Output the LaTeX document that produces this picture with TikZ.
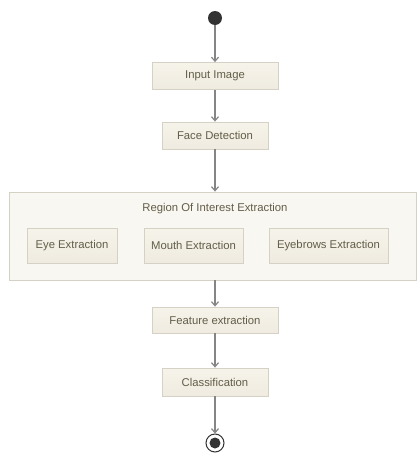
\documentclass[tikz,border=0pt]{standalone}
\usepackage{fontspec}
\setmainfont{Liberation Sans}
\usetikzlibrary{arrows.meta}
\definecolor{boxfill}{HTML}{F6F3EA}
\definecolor{boxfillb}{HTML}{EFEBE0}
\definecolor{boxline}{HTML}{D5D1C5}
\definecolor{regfill}{HTML}{F9F7F1}
\definecolor{txt}{HTML}{625D48}
\definecolor{arr}{HTML}{858585}
\tikzset{
  lbl/.style={font=\fontsize{11.3}{13}\selectfont, text=txt},
  stepbox/.style={draw=boxline, line width=0.8pt, top color=boxfill, bottom color=boxfillb,
    minimum height=27pt, inner sep=0pt, lbl},
  regbox/.style={draw=boxline, line width=0.8pt, fill=regfill, inner sep=0pt},
  flow/.style={draw=arr, line width=1.4pt, -{Straight Barb[length=4pt,width=7pt,line width=1.2pt]}},
}
\begin{document}
\begin{tikzpicture}[x=1pt,y=-1pt]
\useasboundingbox[fill=white] (0,0) rectangle (419,453);
\node[circle, fill=black!80, minimum size=14pt, inner sep=0pt] (start) at (215,18) {};
\node[stepbox, minimum width=126pt] (input) at (215,76) {Input Image};
\node[stepbox, minimum width=106pt] (face) at (215,135.5) {Face Detection};
\node[regbox, minimum width=407pt, minimum height=88pt] (roi) at (212.5,236) {};
\node[lbl] (roititle) at (215,209) {Region Of Interest Extraction};
\node[stepbox, minimum width=90pt, minimum height=35pt] (eye) at (72,245.5) {Eye Extraction};
\node[stepbox, minimum width=99pt, minimum height=35pt] (mouth) at (193.5,245.5) {Mouth Extraction};
\node[stepbox, minimum width=119pt, minimum height=35pt] (brow) at (328.5,245.5) {Eyebrows Extraction};
\node[stepbox, minimum width=126pt, minimum height=26pt] (feat) at (215,320) {Feature extraction};
\node[stepbox, minimum width=106pt, minimum height=28pt] (cls) at (215,382) {Classification};
\node[circle, draw=black!80, line width=1pt, fill=white, minimum size=18pt, inner sep=0pt] (end) at (215,443) {};
\node[circle, fill=black!80, minimum size=11pt, inner sep=0pt] (endin) at (end.center) {};
\draw[flow] (start) -- (input);
\draw[flow] (input) -- (face);
\draw[flow] (face.south) -- (face.south |- roi.north);
\draw[flow] (roi.south -| feat.north) -- (feat.north);
\draw[flow] (feat) -- (cls);
\draw[flow] (cls) -- (end);
\end{tikzpicture}
\end{document}
